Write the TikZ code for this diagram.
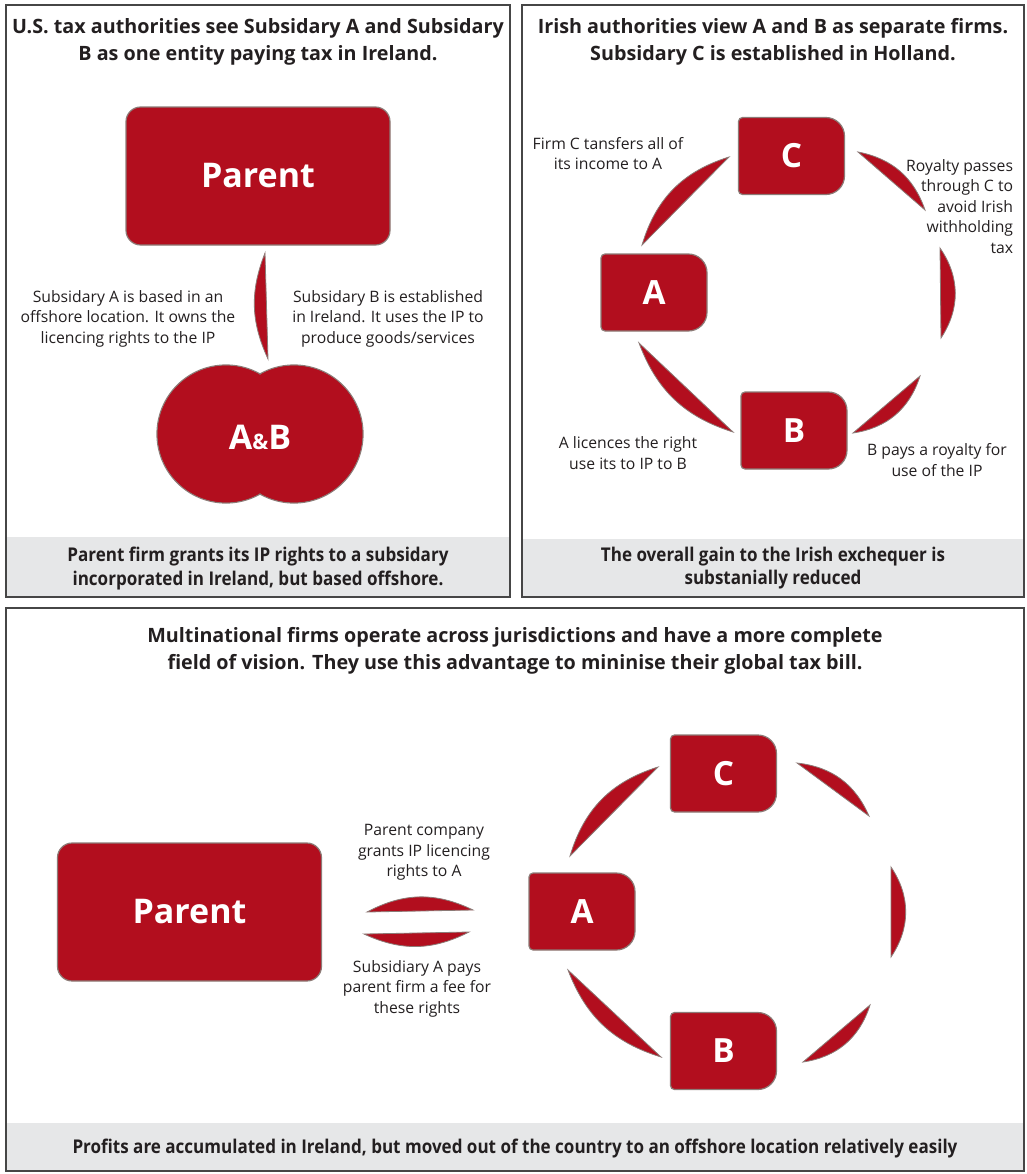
\documentclass[tikz,border=0pt]{standalone}
\usepackage{fontspec}
\setmainfont{Open Sans}
\newfontfamily\footfont[FakeStretch=0.9]{Open Sans}
\usetikzlibrary{backgrounds}

\definecolor{firmred}{RGB}{178,14,30}
\definecolor{firmedge}{RGB}{140,123,119}
\definecolor{panelline}{RGB}{70,70,70}
\definecolor{footgrey}{RGB}{230,231,232}
\definecolor{inktext}{RGB}{35,31,32}

\tikzset{every picture/.style={line width=0.75pt}}
\tikzset{
  panel/.style={draw=panelline, line width=1.1pt},
  footband/.style={fill=footgrey},
  parentbox/.style={rectangle, rounded corners=11pt, fill=firmred, draw=firmedge, line width=0.9pt,
    minimum width=198pt, minimum height=103.5pt, text=white, font=\fontsize{25.5}{30}\selectfont\bfseries},
  firmnode/.style={rectangle, minimum width=78.75pt, minimum height=57pt, text=white,
    font=\fontsize{25}{30}\selectfont\bfseries},
  firmbox/.style={fill=firmred, draw=firmedge, line width=0.9pt},
  abdisc/.style={fill=firmred, draw=firmedge, line width=0.9pt},
  lens/.style={fill=firmred, draw=firmedge, line width=0.6pt},
  headtext/.style={align=center, text=inktext, font=\fontsize{14.8}{20.25}\selectfont\bfseries},
  foottext/.style={align=center, text=inktext, font=\footfont\bfseries\fontsize{14.2}{17.3}\selectfont},
  labeltext/.style={align=center, text=inktext, font=\fontsize{11.8}{15.4}\selectfont}
}

% body of a firm: small corners on the left, large ones on the right
\newcommand{\firmbody}[1]{%
  \draw[firmbox] (#1.west) [rounded corners=3pt] -- (#1.north west) -- (#1.north)
    [rounded corners=14pt] -- (#1.north east) -- (#1.south east) -- (#1.south)
    [rounded corners=3pt] -- (#1.south west) -- cycle;}

\begin{document}
\begin{tikzpicture}[x=0.75pt,y=0.75pt,yscale=-1,xscale=1]
\useasboundingbox (0,0) rectangle (1027,1174);

%Shape: Panels
\fill[footband] (6,537) rectangle (510,597);
\fill[footband] (522,539) rectangle (1024,597);
\fill[footband] (6,1123) rectangle (1024,1171);
\draw[panel] (6,5) rectangle (510,597);
\draw[panel] (522,5) rectangle (1024,597);
\draw[panel] (6,608) rectangle (1024,1171);

% Text Node
\node[headtext] (headI) at (258,41.5) {U.S. tax authorities see Subsidary A and Subsidary\\B as one entity paying tax in Ireland.};
% Text Node
\node[headtext] (headII) at (773,41.5) {Irish authorities view A and B as separate firms.\\Subsidary C is established in Holland.};
% Text Node
\node[headtext] (headIII) at (515,651) {Multinational firms operate across jurisdictions and have a more complete\\field of vision. They use this advantage to mininise their global tax bill.};
% Text Node
\node[foottext] (footI) at (258,568.5) {Parent firm grants its IP rights to a subsidary\\incorporated in Ireland, but based offshore.};
% Text Node
\node[foottext] (footII) at (773,568.5) {The overall gain to the Irish exchequer is\\substanially reduced};
% Text Node
\node[foottext] (footIII) at (515,1149) {Profits are accumulated in Ireland, but moved out of the country to an offshore location relatively easily};

%Panel I: Parent and A&B
\node[parentbox] (parentI) at (258,176) {Parent};
\filldraw[abdisc] (226,434) circle (69) (294,434) circle (69);
\fill[firmred] (226,434) circle (68.2) (294,434) circle (68.2);
\node[text=white, font=\fontsize{25.5}{30}\selectfont\bfseries] (ab) at (260,437) {A{\fontsize{16}{20}\selectfont\&}B};
\coordinate (pab1) at (268,359);
\coordinate (pab2) at (265,253);
\draw[lens] (pab1) to[bend right=23] (pab2) -- cycle;
% Text Node
\node[labeltext] (labAoff) at (128,318.5) {Subsidary A is based in an\\offshore location. It owns the\\licencing rights to the IP};
% Text Node
\node[labeltext] (labBie) at (388,318.5) {Subsidary B is established\\in Ireland. It uses the IP to\\produce goods/services};

%Panel II: A, B, C
\node[firmnode] (cII) at (791.5,156) {C};
\node[firmnode] (aII) at (654,292.5) {A};
\node[firmnode] (bII) at (794,430.5) {B};
\begin{scope}[on background layer]
\firmbody{cII}
\firmbody{aII}
\firmbody{bII}
\end{scope}
\coordinate (acII1) at (642,245);
\coordinate (acII2) at (729,157);
\coordinate (crII1) at (858,152);
\coordinate (crII2) at (925,210);
\coordinate (rrII1) at (940,248);
\coordinate (rrII2) at (941,338);
\coordinate (rbII1) at (920,376);
\coordinate (rbII2) at (853,433);
\coordinate (baII1) at (733,432);
\coordinate (baII2) at (639,343);
\draw[lens] (acII1) to[bend right=28] (acII2) -- cycle;
\draw[lens] (crII1) to[bend right=30] (crII2) -- cycle;
\draw[lens] (rrII1) to[bend right=34] (rrII2) -- cycle;
\draw[lens] (rbII1) to[bend right=32] (rbII2) -- cycle;
\draw[lens] (baII1) to[bend right=26] (baII2) -- cycle;
% Text Node
\node[labeltext] (labCA) at (608,153.5) {Firm C tansfers all of\\its income to A};
% Text Node
\node[labeltext, align=right, anchor=east] (labroyal) at (1018,206.5) {Royalty passes\\through C to\\avoid Irish\\withholding\\tax};
% Text Node
\node[labeltext] (labAB) at (628,453) {A licences the right\\use its to IP to B};
% Text Node
\node[labeltext] (labBpay) at (937,460) {B pays a royalty for\\use of the IP};

%Panel III: Parent, A, B, C
\node[parentbox] (parentIII) at (189.5,912) {Parent};
\node[firmnode] (cIII) at (723.5,773.5) {C};
\node[firmnode] (aIII) at (582,911.5) {A};
\node[firmnode] (bIII) at (723.5,1051) {B};
\begin{scope}[on background layer]
\firmbody{cIII}
\firmbody{aIII}
\firmbody{bIII}
\end{scope}
\coordinate (acIII1) at (570,856);
\coordinate (acIII2) at (658,767);
\coordinate (crIII1) at (797,763);
\coordinate (crIII2) at (869,816);
\coordinate (rrIII1) at (891,867);
\coordinate (rrIII2) at (891,957);
\coordinate (rbIII1) at (870,1005);
\coordinate (rbIII2) at (803,1062);
\coordinate (baIII1) at (661,1057);
\coordinate (baIII2) at (568,970);
\coordinate (paIII1) at (367,912);
\coordinate (paIII2) at (473,910);
\coordinate (apIII1) at (469,932);
\coordinate (apIII2) at (364,934);
\draw[lens] (acIII1) to[bend right=28] (acIII2) -- cycle;
\draw[lens] (crIII1) to[bend right=30] (crIII2) -- cycle;
\draw[lens] (rrIII1) to[bend right=34] (rrIII2) -- cycle;
\draw[lens] (rbIII1) to[bend right=32] (rbIII2) -- cycle;
\draw[lens] (baIII1) to[bend right=26] (baIII2) -- cycle;
\draw[lens] (paIII1) to[bend right=27] (paIII2) -- cycle;
\draw[lens] (apIII1) to[bend right=26] (apIII2) -- cycle;
% Text Node
\node[labeltext] (labgrant) at (424,852.5) {Parent company\\grants IP licencing\\rights to A};
% Text Node
\node[labeltext] (labfee) at (417,988.5) {Subsidiary A pays\\parent firm a fee for\\these rights};

\end{tikzpicture}
\end{document}
